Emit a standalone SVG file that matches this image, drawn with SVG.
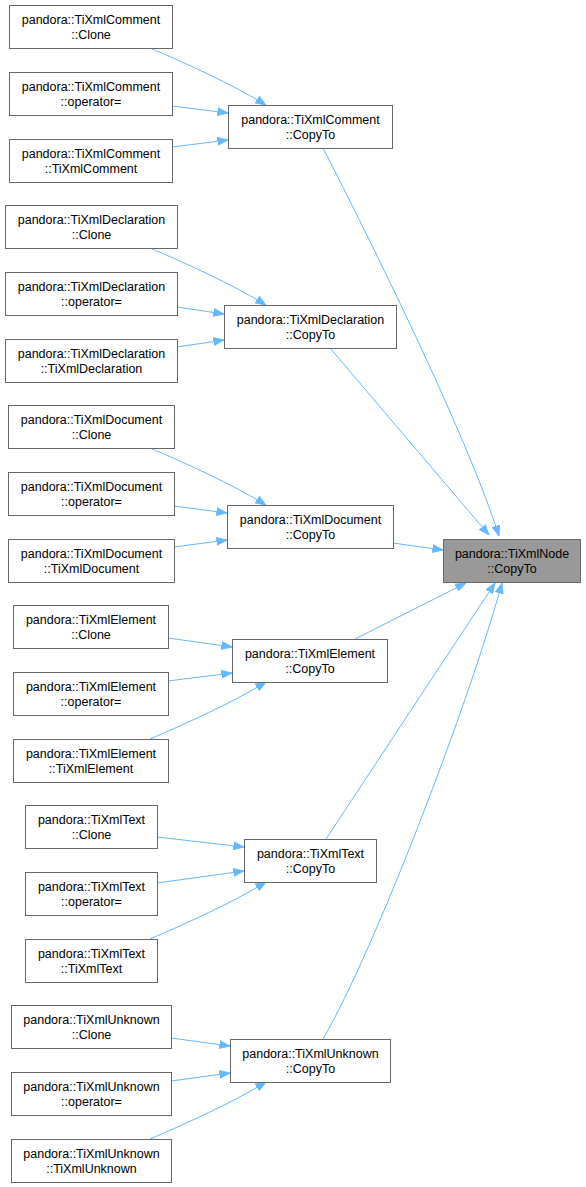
<svg xmlns="http://www.w3.org/2000/svg" width="586" height="1187" viewBox="0 0 586 1187">
<style>
.n rect{fill:#ffffff;stroke:#666666;stroke-width:1}
.m rect{fill:#999999;stroke:#666666;stroke-width:1}
text{font-family:"Liberation Sans",Arial,sans-serif;font-size:12.5px;fill:#000000;text-anchor:middle}
.e path{fill:none;stroke:#63b8ff;stroke-width:1;marker-end:url(#ah)}
</style>
<defs>
<marker id="ah" markerUnits="userSpaceOnUse" markerWidth="11" markerHeight="9" refX="10.5" refY="4" orient="auto" viewBox="0 0 11 8">
<path d="M0,0 L10.5,4 L0,8 z" fill="#63b8ff" stroke="#63b8ff" stroke-width="0.8"/>
</marker>
</defs>
<rect width="586" height="1187" fill="#ffffff"/>
<g id="connectors" class="e">
<path d="M150,48 C185,63 232,84 266,105"/>
<path d="M172,106 L228,113"/>
<path d="M172,147 L228,140"/>
<path d="M150,248 C185,263 232,284 266,305"/>
<path d="M177,307 L224,314"/>
<path d="M177,347 L224,340"/>
<path d="M150,448 C185,463 232,484 266,505"/>
<path d="M174,506 L227,513"/>
<path d="M174,547 L227,540"/>
<path d="M168,638 L232,647"/>
<path d="M168,681 L232,673"/>
<path d="M150,739 C185,724 232,703 266,682"/>
<path d="M157,837 L244,847"/>
<path d="M157,883 L244,871"/>
<path d="M150,939 C185,924 232,903 266,882"/>
<path d="M171,1038 L230,1046"/>
<path d="M171,1081 L230,1073"/>
<path d="M150,1139 C185,1124 232,1103 266,1082"/>
<path d="M323,148 C370,240 465,430 499,536"/>
<path d="M330,348 L489,535"/>
<path d="M393,543 L443,550"/>
<path d="M355,639 L466,583"/>
<path d="M326,839 L495,583"/>
<path d="M323,1039 C375,950 470,700 502,583"/>
</g>
<g id="cmt_clone" class="n"><rect x="9.5" y="5.5" width="163" height="43"/><text x="91" y="23.5">pandora::TiXmlComment</text><text x="91" y="38.5">::Clone</text></g>
<g id="cmt_op" class="n"><rect x="9.5" y="72.5" width="163" height="43"/><text x="91" y="90.5">pandora::TiXmlComment</text><text x="91" y="105.5">::operator=</text></g>
<g id="cmt_ctor" class="n"><rect x="9.5" y="139.5" width="163" height="43"/><text x="91" y="157.5">pandora::TiXmlComment</text><text x="91" y="172.5">::TiXmlComment</text></g>
<g id="cmt_copy" class="n"><rect x="228.5" y="105.5" width="164" height="43"/><text x="310.5" y="123.5">pandora::TiXmlComment</text><text x="310.5" y="138.5">::CopyTo</text></g>
<g id="dcl_clone" class="n"><rect x="5.5" y="205.5" width="172" height="43"/><text x="91.5" y="223.5">pandora::TiXmlDeclaration</text><text x="91.5" y="238.5">::Clone</text></g>
<g id="dcl_op" class="n"><rect x="5.5" y="272.5" width="172" height="43"/><text x="91.5" y="290.5">pandora::TiXmlDeclaration</text><text x="91.5" y="305.5">::operator=</text></g>
<g id="dcl_ctor" class="n"><rect x="5.5" y="339.5" width="172" height="43"/><text x="91.5" y="357.5">pandora::TiXmlDeclaration</text><text x="91.5" y="372.5">::TiXmlDeclaration</text></g>
<g id="dcl_copy" class="n"><rect x="224.5" y="305.5" width="172" height="43"/><text x="310.5" y="323.5">pandora::TiXmlDeclaration</text><text x="310.5" y="338.5">::CopyTo</text></g>
<g id="doc_clone" class="n"><rect x="8.5" y="405.5" width="166" height="43"/><text x="91.5" y="423.5">pandora::TiXmlDocument</text><text x="91.5" y="438.5">::Clone</text></g>
<g id="doc_op" class="n"><rect x="8.5" y="472.5" width="166" height="43"/><text x="91.5" y="490.5">pandora::TiXmlDocument</text><text x="91.5" y="505.5">::operator=</text></g>
<g id="doc_ctor" class="n"><rect x="8.5" y="539.5" width="166" height="43"/><text x="91.5" y="557.5">pandora::TiXmlDocument</text><text x="91.5" y="572.5">::TiXmlDocument</text></g>
<g id="doc_copy" class="n"><rect x="227.5" y="505.5" width="166" height="43"/><text x="310.5" y="523.5">pandora::TiXmlDocument</text><text x="310.5" y="538.5">::CopyTo</text></g>
<g id="node_copy" class="m"><rect x="443.5" y="539.5" width="137" height="43"/><text x="512" y="557.5">pandora::TiXmlNode</text><text x="512" y="572.5">::CopyTo</text></g>
<g id="el_clone" class="n"><rect x="13.5" y="605.5" width="155" height="43"/><text x="91" y="623.5">pandora::TiXmlElement</text><text x="91" y="638.5">::Clone</text></g>
<g id="el_op" class="n"><rect x="13.5" y="672.5" width="155" height="43"/><text x="91" y="690.5">pandora::TiXmlElement</text><text x="91" y="705.5">::operator=</text></g>
<g id="el_ctor" class="n"><rect x="13.5" y="739.5" width="155" height="43"/><text x="91" y="757.5">pandora::TiXmlElement</text><text x="91" y="772.5">::TiXmlElement</text></g>
<g id="el_copy" class="n"><rect x="232.5" y="639.5" width="155" height="43"/><text x="310" y="657.5">pandora::TiXmlElement</text><text x="310" y="672.5">::CopyTo</text></g>
<g id="tx_clone" class="n"><rect x="25.5" y="805.5" width="132" height="43"/><text x="91.5" y="823.5">pandora::TiXmlText</text><text x="91.5" y="838.5">::Clone</text></g>
<g id="tx_op" class="n"><rect x="25.5" y="872.5" width="132" height="43"/><text x="91.5" y="890.5">pandora::TiXmlText</text><text x="91.5" y="905.5">::operator=</text></g>
<g id="tx_ctor" class="n"><rect x="25.5" y="939.5" width="132" height="43"/><text x="91.5" y="957.5">pandora::TiXmlText</text><text x="91.5" y="972.5">::TiXmlText</text></g>
<g id="tx_copy" class="n"><rect x="244.5" y="839.5" width="132" height="43"/><text x="310.5" y="857.5">pandora::TiXmlText</text><text x="310.5" y="872.5">::CopyTo</text></g>
<g id="un_clone" class="n"><rect x="11.5" y="1005.5" width="160" height="43"/><text x="91.5" y="1023.5">pandora::TiXmlUnknown</text><text x="91.5" y="1038.5">::Clone</text></g>
<g id="un_op" class="n"><rect x="11.5" y="1072.5" width="160" height="43"/><text x="91.5" y="1090.5">pandora::TiXmlUnknown</text><text x="91.5" y="1105.5">::operator=</text></g>
<g id="un_ctor" class="n"><rect x="11.5" y="1139.5" width="160" height="43"/><text x="91.5" y="1157.5">pandora::TiXmlUnknown</text><text x="91.5" y="1172.5">::TiXmlUnknown</text></g>
<g id="un_copy" class="n"><rect x="230.5" y="1039.5" width="160" height="43"/><text x="310.5" y="1057.5">pandora::TiXmlUnknown</text><text x="310.5" y="1072.5">::CopyTo</text></g>
</svg>
